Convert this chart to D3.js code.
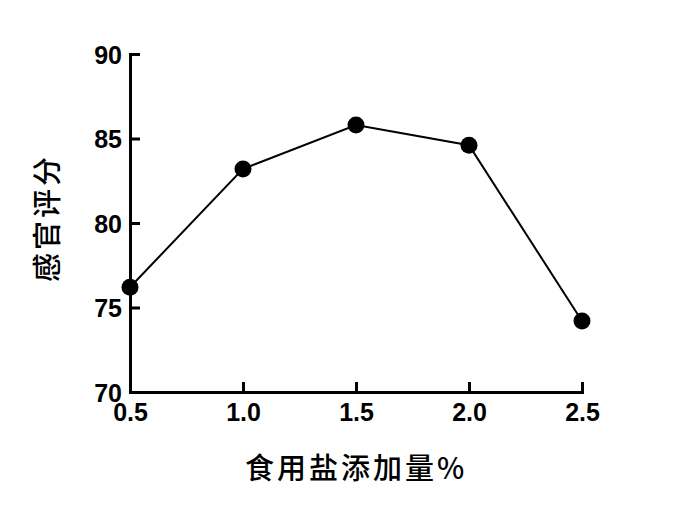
<!DOCTYPE html>
<html><head><meta charset="utf-8">
<script src="https://cdn.jsdelivr.net/npm/d3@7"></script>
<style>body{margin:0;background:#fff}</style>
</head><body>
<svg id="c" width="674" height="514"></svg>
<script>
const xValues = [0.5, 1.0, 1.5, 2.0, 2.5];
const scores = [76.2, 83.2, 85.8, 84.6, 74.2];
const xTicks = [0.5, 1.0, 1.5, 2.0, 2.5];
const yTicks = [70, 75, 80, 85, 90];
const xTitle = "食用盐添加量%";
const yTitle = "感官评分";

const svg = d3.select("#c");
const x = d3.scaleLinear().domain([0.5, 2.5]).range([130, 582]);
const y = d3.scaleLinear().domain([70, 90]).range([392, 54]);
const numFont = "'Liberation Sans', Arial, sans-serif";
const cjkFont = "'Noto Sans CJK SC', sans-serif";

const gx = svg.append("g").attr("transform", "translate(0,392)")
  .call(d3.axisBottom(x).tickValues(xTicks).tickFormat(d3.format(".1f")).tickSizeInner(-10).tickSizeOuter(0).tickPadding(5));
const gy = svg.append("g").attr("transform", "translate(130,0)")
  .call(d3.axisLeft(y).tickValues(yTicks).tickSizeInner(-10).tickSizeOuter(0).tickPadding(8));
[gx, gy].forEach(g => {
  g.select(".domain").attr("stroke", "#000").attr("stroke-width", 3).attr("stroke-linecap", "square");
  g.selectAll(".tick line").attr("stroke", "#000").attr("stroke-width", 3);
  g.selectAll(".tick text").attr("fill", "#000").style("font-family", numFont)
    .style("font-size", "25px").style("font-weight", "bold");
});
gx.selectAll(".tick text").attr("dy", "0.95em");
gy.selectAll(".tick text").attr("dy", "0.36em");

svg.append("path").datum(xValues.map((v, i) => [v, scores[i]]))
  .attr("fill", "none").attr("stroke", "#000").attr("stroke-width", 2)
  .attr("d", d3.line().x(d => x(d[0])).y(d => y(d[1])));
svg.selectAll("circle.pt").data(xValues.map((v, i) => [v, scores[i]])).enter()
  .append("circle").attr("class", "pt")
  .attr("cx", d => x(d[0])).attr("cy", d => y(d[1])).attr("r", 8.5).attr("fill", "#000");

svg.append("text").attr("x", 356).attr("y", 479).attr("text-anchor", "middle")
  .style("font-family", cjkFont).style("font-size", "29px").style("letter-spacing", "3px")
  .style("font-weight", "500").attr("fill", "#000").text(xTitle);
svg.append("text").attr("transform", "translate(58,218) rotate(-90)").attr("text-anchor", "middle")
  .style("font-family", cjkFont).style("font-size", "29px").style("letter-spacing", "3px")
  .style("font-weight", "500").attr("fill", "#000").text(yTitle);
</script>
</body></html>
